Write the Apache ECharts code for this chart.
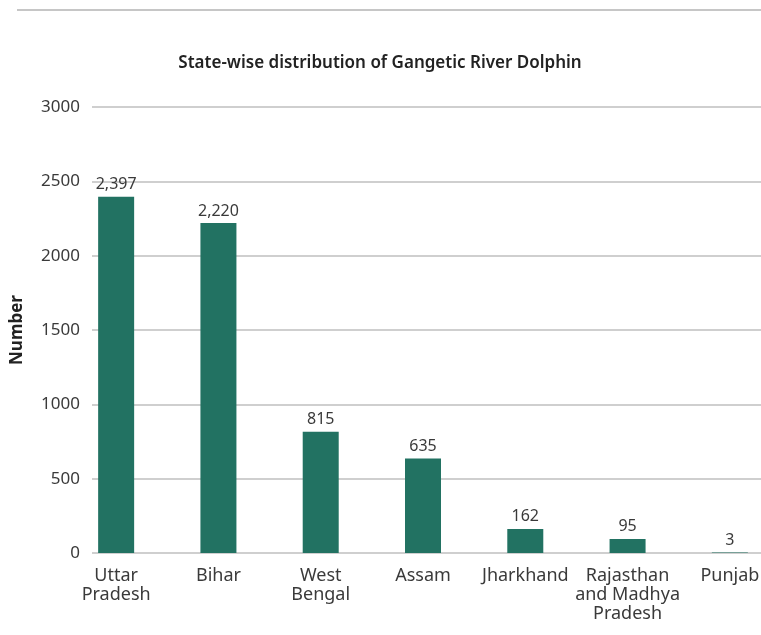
<!DOCTYPE html>
<html>
<head>
<meta charset="utf-8">
<script src="https://cdn.jsdelivr.net/npm/echarts@6/dist/echarts.min.js"></script>
<style>
  html, body { margin: 0; padding: 0; background: #fff; overflow: hidden; }
  /* the canvas runs 20px past the right edge so the last band can be cut off */
  #chart { width: 781px; height: 635px; }
</style>
</head>
<body>
<div id="chart"></div>
<script>
// State-wise counts of the Gangetic river dolphin
const states = ['Uttar\nPradesh', 'Bihar', 'West\nBengal', 'Assam', 'Jharkhand', 'Rajasthan\nand Madhya\nPradesh', 'Punjab'];
const dolphinCounts = [2397, 2220, 815, 635, 162, 95, 3];
const yTicks = [0, 500, 1000, 1500, 2000, 2500, 3000];

const BAR_COLOR = '#227262';
const TEXT = '#3a3a3a';
const FONT = '"Noto Sans", "Open Sans", sans-serif';

const chart = echarts.init(document.getElementById('chart'), null, { renderer: 'canvas' });

const yMin = yTicks[0];
const yMax = yTicks[yTicks.length - 1];
const yStep = yTicks[1] - yTicks[0];

chart.setOption({
  animation: false,
  backgroundColor: '#ffffff',
  title: {
    text: 'State-wise distribution of Gangetic River Dolphin',
    left: 375,
    textAlign: 'center',
    top: 50,
    textStyle: { fontFamily: FONT, fontSize: 17, fontWeight: 600, color: '#222' }
  },
  graphic: [{
    type: 'line',
    shape: { x1: 17, y1: 10, x2: 781, y2: 10 },
    style: { stroke: '#c6c6c6', lineWidth: 2 }
  }],
  grid: [
    // value scale, gridlines and y labels
    { left: 92, right: 0, top: 107, bottom: 82 },
    // bars and state labels
    { left: 65, right: 0, top: 107, bottom: 82 }
  ],
  xAxis: [
    { gridIndex: 0, type: 'value', show: false, min: 0, max: 1 },
    {
      gridIndex: 1,
      type: 'category',
      data: states,
      axisLine: { show: false },
      axisTick: { show: false },
      axisLabel: {
        margin: 13,
        interval: 0,
        fontFamily: FONT,
        fontSize: 18,
        lineHeight: 19,
        color: TEXT
      }
    }
  ],
  yAxis: [
    {
      gridIndex: 0,
      type: 'value',
      min: yMin,
      max: yMax,
      interval: yStep,
      name: 'Number',
      nameLocation: 'middle',
      nameGap: 66,
      nameTextStyle: { fontFamily: FONT, fontSize: 17, fontWeight: 'bold', color: '#222' },
      axisLine: { show: false },
      axisTick: { show: false },
      axisLabel: {
        margin: 12,
        fontFamily: FONT,
        fontSize: 17,
        color: TEXT,
        formatter: v => String(v)
      },
      splitLine: { lineStyle: { color: '#cfcfcf', width: 2 } }
    },
    {
      gridIndex: 1,
      type: 'value',
      min: yMin,
      max: yMax,
      interval: yStep,
      show: false,
      splitLine: { show: false }
    }
  ],
  series: [{
    type: 'bar',
    xAxisIndex: 1,
    yAxisIndex: 1,
    data: dolphinCounts,
    barWidth: 36,
    itemStyle: { color: BAR_COLOR },
    label: {
      show: true,
      position: 'top',
      distance: 4,
      fontFamily: FONT,
      fontSize: 16,
      color: TEXT,
      formatter: p => p.value.toLocaleString('en-US')
    }
  }]
});
</script>
</body>
</html>
